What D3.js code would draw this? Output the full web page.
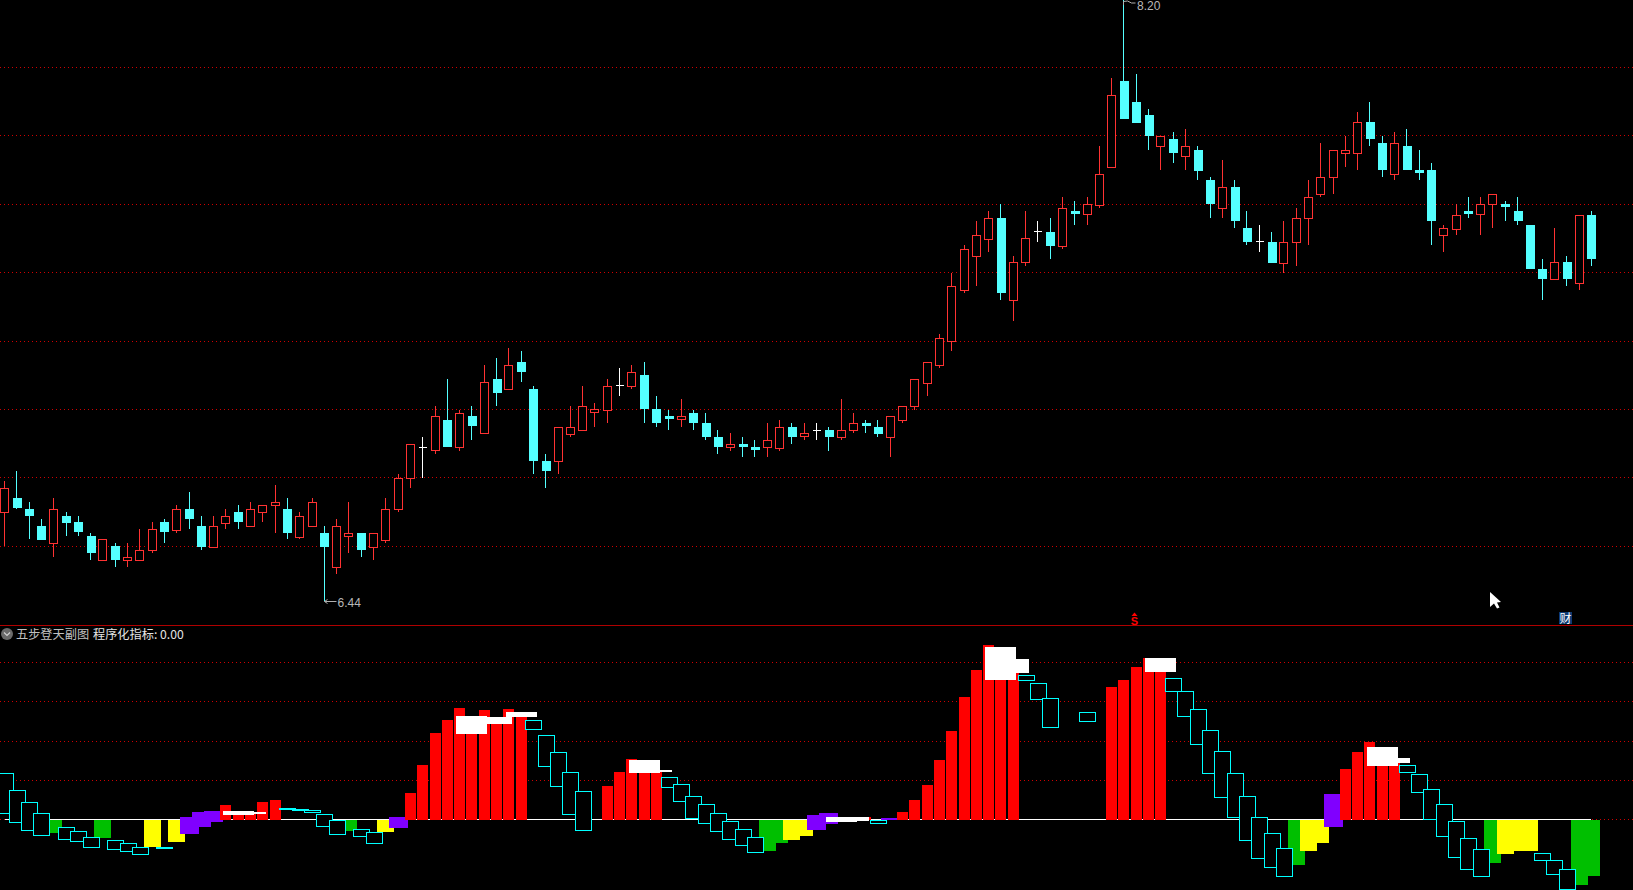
<!DOCTYPE html>
<html><head><meta charset="utf-8">
<style>html,body{margin:0;padding:0;background:#000;overflow:hidden}svg{display:block}</style>
<script src="https://cdn.jsdelivr.net/npm/d3@7/dist/d3.min.js"></script>
</head><body>
<svg id="c" width="1633" height="890"></svg>
<script>
const highs=[6.79,6.82,6.73,6.68,6.74,6.70,6.69,6.64,6.62,6.61,6.61,6.65,6.67,6.68,6.72,6.76,6.69,6.69,6.71,6.72,6.73,6.72,6.78,6.74,6.70,6.74,6.66,6.68,6.73,6.64,6.64,6.74,6.81,6.90,6.92,7.01,7.09,7.00,7.01,7.13,7.15,7.18,7.17,7.07,6.87,6.95,7.01,7.07,7.02,7.09,7.12,7.13,7.14,7.04,7.00,7.03,7.00,6.99,6.94,6.93,6.92,6.91,6.96,6.97,6.96,6.96,6.96,6.95,7.03,6.99,6.97,6.97,6.98,7.01,7.09,7.14,7.22,7.40,7.48,7.55,7.58,7.60,7.45,7.58,7.55,7.56,7.62,7.61,7.62,7.77,7.97,8.20,7.98,7.88,7.80,7.81,7.82,7.77,7.68,7.73,7.67,7.58,7.54,7.52,7.55,7.59,7.67,7.78,7.76,7.80,7.87,7.90,7.80,7.81,7.82,7.76,7.72,7.54,7.60,7.62,7.62,7.63,7.61,7.62,7.54,7.44,7.53,7.45,7.57,7.58];
const lows=[6.60,6.71,6.62,6.62,6.57,6.63,6.63,6.56,6.56,6.54,6.54,6.56,6.58,6.61,6.64,6.65,6.59,6.60,6.65,6.65,6.66,6.67,6.64,6.62,6.62,6.66,6.44,6.52,6.58,6.57,6.56,6.61,6.70,6.77,6.80,6.87,6.89,6.88,6.91,6.93,7.01,7.06,7.08,6.81,6.77,6.81,6.92,6.94,6.95,6.96,7.04,7.06,6.96,6.95,6.94,6.95,6.94,6.91,6.87,6.88,6.86,6.86,6.86,6.88,6.90,6.91,6.91,6.88,6.91,6.93,6.93,6.92,6.86,6.96,7.00,7.04,7.12,7.17,7.34,7.36,7.46,7.32,7.26,7.42,7.49,7.44,7.47,7.54,7.54,7.59,7.71,7.85,7.84,7.76,7.70,7.72,7.70,7.67,7.56,7.56,7.53,7.48,7.46,7.43,7.40,7.42,7.48,7.62,7.63,7.71,7.70,7.77,7.68,7.67,7.70,7.67,7.48,7.46,7.51,7.56,7.51,7.53,7.55,7.54,7.41,7.32,7.38,7.36,7.35,7.42];
const opens=[6.70,6.74,6.71,6.66,6.61,6.69,6.67,6.63,6.56,6.60,6.56,6.56,6.59,6.67,6.65,6.71,6.66,6.60,6.67,6.70,6.66,6.70,6.72,6.71,6.63,6.66,6.64,6.54,6.63,6.64,6.60,6.62,6.71,6.80,6.89,6.88,6.97,6.89,6.98,6.93,7.09,7.06,7.14,7.06,6.85,6.85,6.93,6.94,6.99,7.00,7.07,7.07,7.10,7.00,6.98,6.97,6.99,6.96,6.92,6.89,6.90,6.89,6.89,6.89,6.95,6.92,6.94,6.94,6.92,6.94,6.96,6.95,6.92,6.97,7.01,7.08,7.13,7.20,7.35,7.45,7.50,7.56,7.32,7.43,7.52,7.52,7.48,7.58,7.57,7.60,7.71,7.96,7.90,7.86,7.77,7.79,7.74,7.76,7.67,7.59,7.65,7.53,7.49,7.49,7.43,7.49,7.56,7.63,7.68,7.75,7.75,7.84,7.78,7.69,7.77,7.70,7.70,7.51,7.53,7.58,7.57,7.60,7.60,7.58,7.54,7.41,7.38,7.43,7.37,7.57];
const closes=[6.77,6.71,6.69,6.62,6.71,6.67,6.64,6.58,6.62,6.56,6.57,6.59,6.65,6.64,6.71,6.68,6.60,6.66,6.69,6.67,6.71,6.72,6.73,6.64,6.69,6.73,6.60,6.66,6.64,6.59,6.64,6.71,6.80,6.90,6.89,6.98,6.89,6.99,6.95,7.08,7.05,7.13,7.11,6.85,6.82,6.95,6.95,7.01,7.00,7.07,7.07,7.11,7.00,6.96,6.97,6.98,6.96,6.92,6.89,6.90,6.89,6.88,6.91,6.95,6.92,6.93,6.94,6.92,6.94,6.96,6.95,6.93,6.98,7.01,7.09,7.14,7.21,7.36,7.47,7.51,7.56,7.34,7.43,7.50,7.52,7.48,7.59,7.57,7.60,7.69,7.92,7.85,7.84,7.80,7.80,7.75,7.77,7.70,7.60,7.65,7.55,7.49,7.49,7.43,7.49,7.56,7.62,7.68,7.76,7.76,7.84,7.79,7.70,7.78,7.70,7.69,7.55,7.53,7.57,7.57,7.60,7.63,7.59,7.55,7.41,7.38,7.43,7.38,7.57,7.44];
const priceTicks=[8.0,7.8,7.6,7.4,7.2,7.0,6.8,6.6];
const indicatorTicks=[80,60,40,20,0];
// indicator panel: [day, value] from zero, or [day, top, bottom]
const greenBars=[[4,-7.0],[8,-9.5],[28,-6.0],[62,-16.2],[63,-12.1],[105,-23.3],[121,-22.3],[128,-33.5],[129,-28.9]];
const yellowBars=[[12,-14.1],[14,-11.6],[31,-6.5],[64,-10.5],[65,-8.5],[106,-16.2],[107,-12.1],[122,-17.7],[123,-16.2],[124,-16.2]];
const purpleBars=[[15,1.2,-7.5],[16,3.7,-3.9],[17,4.3,-1.4],[32,1.2,-4.4],[66,2.2,-5.4],[67,3.2,-2.4],[72,0.7,-0.3],[108,12.9,-3.9]];
const redBars=[[18,7.3],[19,3.0],[20,3.0],[21,8.8],[22,9.9],[33,13.4],[34,27.7],[35,44.0],[36,50.7],[37,56.8],[38,50.7],[39,55.8],[40,50.7],[41,56.3],[42,53.2],[49,17.0],[50,24.1],[51,30.8],[52,26.9],[53,24.1],[70,1.2],[73,3.7],[74,9.9],[75,17.5],[76,30.3],[77,45.1],[78,62.4],[79,76.2],[80,88.9],[81,84.7],[82,79.6],[90,67.5],[91,71.1],[92,77.7],[93,82.3],[94,79.6],[109,25.7],[110,34.4],[111,39.5],[112,32.0],[113,29.4]];
const whiteBars=[[19,4.3,2.2],[20,3.7,2.7],[38,52.7,43.5],[40,52.2,48.6],[42,54.8,52.2],[52,30.3,23.6],[53,25.2,24.1],[68,1.2,-1.4],[69,1.2,-0.9],[81,87.9,71.1],[82,81.8,74.7],[94,82.3,75.2],[112,36.9,27.2],[113,31.3,28.7]];
const cyanBoxes=[[0,23.5,3.4],[1,15.3,-1.2],[2,8.7,-5.3],[3,3.1,-7.8],[5,-3.6,-9.9],[6,-6.1,-10.9],[7,-8.7,-13.9],[9,-10.7,-15.0],[10,-12.2,-16.0],[11,-13.8,-17.5],[13,-13.8,-13.9],[23,6.1,5.4],[24,5.6,4.9],[25,5.1,3.9],[26,2.6,-3.2],[27,-0.5,-7.3],[29,-4.6,-8.3],[30,-6.6,-11.9],[43,50.7,46.3],[44,42.9,27.4],[45,34.2,17.2],[46,24.0,2.9],[47,14.3,-5.3],[54,21.9,16.7],[55,17.9,9.5],[56,12.2,0.9],[57,7.7,-1.7],[58,3.1,-5.8],[59,-1.0,-9.9],[60,-5.1,-12.9],[61,-8.7,-16.5],[71,-0.3,-1.7],[83,73.5,71.3],[84,69.4,61.6],[85,62.2,47.3],[88,54.6,50.3],[95,72.4,65.6],[96,65.8,52.9],[97,56.6,38.6],[98,45.9,23.8],[99,34.7,11.6],[100,23.5,1.4],[101,12.2,-10.7],[102,1.5,-19.6],[103,-7.1,-24.1],[104,-14.3,-28.7],[114,27.6,24.3],[115,23.0,14.1],[116,15.8,0.3],[117,7.7,-8.3],[118,-1.0,-19.0],[119,-9.2,-25.2],[120,-15.3,-28.7],[125,-17.3,-20.6],[126,-20.9,-27.7],[127,-25.5,-35.4]];
const indicatorName="五步登天副图";
const indicatorLabel="程序化指标: 0.00";
const highLabel="8.20", lowLabel="6.44";

const UP="#ff3232", DOWN="#54ffff", GRID="#d00000";
const svg=d3.select("#c");
svg.append("rect").attr("width",1633).attr("height",890).attr("fill","#000");
const x=d3.scaleLinear().domain([0,closes.length-1]).range([4.5,1591.4]);
const y=d3.scaleLinear().domain([8.0,6.6]).range([67.5,546.3]);
const v=d3.scaleLinear().domain([0,80]).range([819.5,662.7]);
const snap=a=>Math.round(a-0.5)+0.5;
const root=svg.append("g").attr("shape-rendering","crispEdges");

// gridlines
root.selectAll(".gp").data(priceTicks).join("line")
  .attr("x1",0).attr("x2",1633).attr("y1",d=>snap(y(d))).attr("y2",d=>snap(y(d)))
  .attr("stroke",GRID).attr("stroke-dasharray","1 3");
root.selectAll(".gi").data(indicatorTicks).join("line")
  .attr("x1",0).attr("x2",1633).attr("y1",d=>snap(v(d))).attr("y2",d=>snap(v(d)))
  .attr("stroke",GRID).attr("stroke-dasharray","1 3");
root.append("line").attr("x1",0).attr("x2",1633).attr("y1",625.5).attr("y2",625.5).attr("stroke","#b00000");

// candles
const days=d3.range(closes.length);
const col=i=>closes[i]>opens[i]?UP:closes[i]<opens[i]?DOWN:"#ffffff";
const candles=root.append("g");
candles.selectAll("line").data(days).join("line")
  .attr("x1",i=>snap(x(i))).attr("x2",i=>snap(x(i)))
  .attr("y1",i=>y(highs[i])).attr("y2",i=>y(lows[i]))
  .attr("stroke",col);
candles.selectAll("rect").data(days).join("rect")
  .attr("x",i=>closes[i]>opens[i]?snap(x(i))-4:Math.round(x(i))-4.5+0)
  .attr("width",i=>closes[i]>opens[i]?8:9)
  .attr("y",i=>closes[i]===opens[i]?snap(y(closes[i])):Math.round(y(Math.max(opens[i],closes[i])))+(closes[i]>opens[i]?0.5:0))
  .attr("height",i=>closes[i]===opens[i]?0.01:Math.max(1,Math.round(Math.abs(y(opens[i])-y(closes[i])))))
  .attr("fill",i=>closes[i]>opens[i]?"#000":col(i))
  .attr("stroke",i=>closes[i]>opens[i]?UP:"none");
// doji cross bars
candles.selectAll("line.d").data(days.filter(i=>closes[i]===opens[i])).join("line").attr("class","d")
  .attr("x1",i=>snap(x(i))-4).attr("x2",i=>snap(x(i))+4.5)
  .attr("y1",i=>snap(y(closes[i]))).attr("y2",i=>snap(y(closes[i])))
  .attr("stroke","#fff");

// indicator
root.append("line").attr("x1",x(0)).attr("x2",x(129)).attr("y1",snap(v(0))).attr("y2",snap(v(0))).attr("stroke","#fff");
function bars(data,w,fill){
  const top=d=>d.length>2?v(d[1]):Math.min(v(0),v(d[1]));
  const bot=d=>d.length>2?v(d[2]):Math.max(v(0),v(d[1]));
  root.append("g").selectAll("rect").data(data).join("rect")
    .attr("x",d=>Math.round(x(d[0])-w/2)).attr("width",w)
    .attr("y",d=>Math.round(top(d))).attr("height",d=>Math.max(1,Math.round(bot(d))-Math.round(top(d))))
    .attr("fill",fill);
}
bars(greenBars,17,"#00bf00");
bars(yellowBars,17,"#ffff00");
bars(purpleBars,19,"#8000ff");
bars(redBars,11,"#ff0000");
bars(whiteBars,31,"#ffffff");
root.append("g").selectAll("rect").data(cyanBoxes).join("rect")
  .attr("x",d=>Math.round(x(d[0])-8)+0.5).attr("width",16)
  .attr("y",d=>Math.round(v(d[1]))+0.5).attr("height",d=>Math.max(1,Math.round(v(d[2]))-Math.round(v(d[1]))))
  .attr("fill","#000").attr("stroke","#00ffff");

// header
const head=svg.append("g");
head.append("circle").attr("cx",7).attr("cy",634).attr("r",6).attr("fill","#6a6a6a");
head.append("path").attr("d","M4 632.5L7 635.5L10 632.5").attr("fill","none").attr("stroke","#d0d0d0").attr("stroke-width",1.2);
const cjk="'Noto Sans CJK SC',sans-serif";
head.append("text").attr("x",16).attr("y",639).attr("font-family",cjk).attr("font-size",12.2).attr("fill","#c0c0c0").text(indicatorName);
head.append("text").attr("x",93).attr("y",639).attr("font-family",cjk).attr("font-size",12.2).attr("fill","#e4e4e4").text(indicatorLabel);

// extreme labels
const ann=svg.append("g").attr("fill","none").attr("stroke","#b0b0b0");
const lx=snap(x(26)), ly=snap(y(6.44));
ann.append("path").attr("d",`M${lx} ${ly}H${lx+12}M${lx+3} ${ly-2}L${lx} ${ly}L${lx+3} ${ly+2}`);
const hx=snap(x(91));
ann.append("path").attr("d",`M${hx} 1.5L${hx+4} 1L${hx+8} 3L${hx+12} 3M${hx} 1.5V5`);
const lab="'Liberation Sans',sans-serif";
svg.append("text").attr("x",337.5).attr("y",606.5).attr("font-family",lab).attr("font-size",12).attr("fill","#b8b8b8").text(lowLabel);
svg.append("text").attr("x",1137).attr("y",9.5).attr("font-family",lab).attr("font-size",12).attr("fill","#b8b8b8").text(highLabel);

// markers
svg.append("path").attr("d","M1134.5 612.5L1137.5 616H1131.5Z").attr("fill","#ff0000");
svg.append("text").attr("x",1134.5).attr("y",624.5).attr("text-anchor","middle").attr("font-family",lab).attr("font-weight","bold").attr("font-size",11).attr("fill","#ff0000").text("S");
svg.append("rect").attr("x",1559).attr("y",612).attr("width",13).attr("height",12).attr("fill","#0d3a72");
svg.append("text").attr("x",1565.5).attr("y",622.5).attr("text-anchor","middle").attr("font-family",cjk).attr("font-size",12).attr("fill","#ffffff").text("财");
svg.append("path").attr("d","M1490 592V607L1494 603.5L1497 608.5L1499.5 607.5L1497 602.5L1501 602Z").attr("fill","#fff");
</script>
</body></html>
